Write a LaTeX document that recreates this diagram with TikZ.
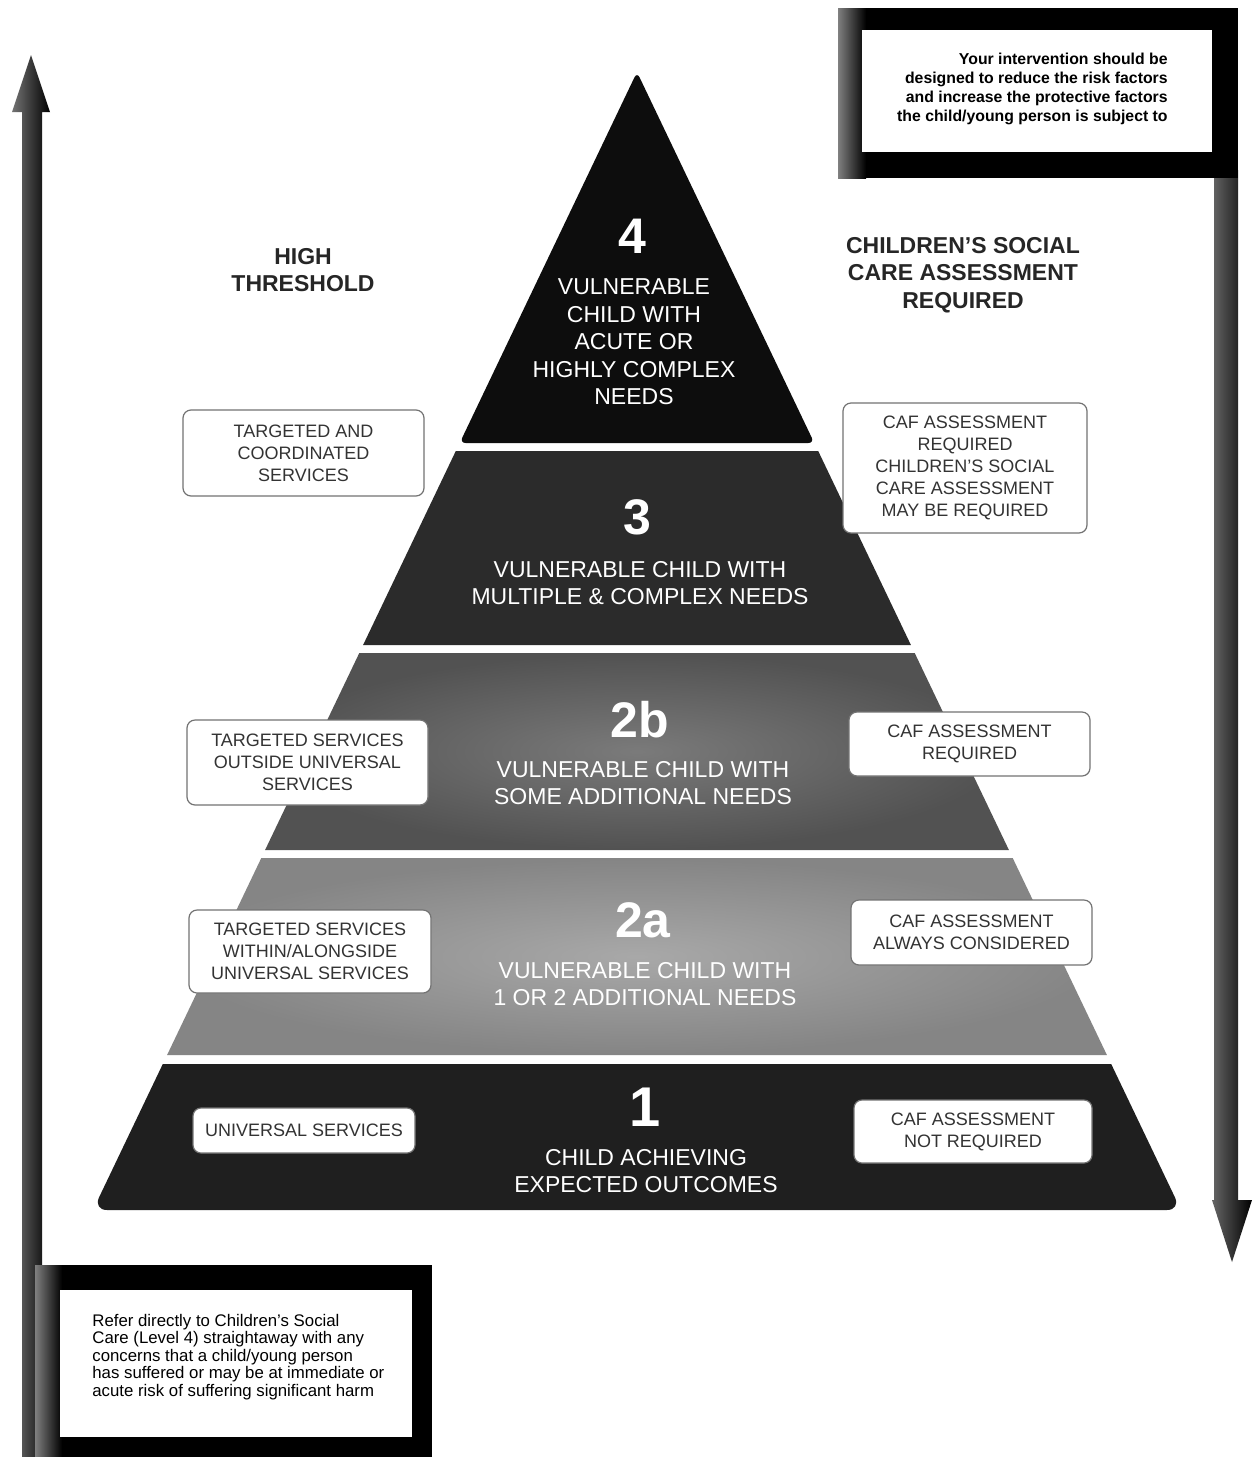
\documentclass[tikz,border=0pt]{standalone}
\usepackage{fontspec}
\setmainfont{Liberation Sans}
\begin{document}
\begin{tikzpicture}[x=0.5pt,y=-0.5pt,
  levelnum/.style={text=white, font=\bfseries\fontsize{25}{25}\selectfont, inner sep=0pt},
  leveltxt/.style={text=white, align=center, font=\fontsize{11.5}{13.75}\selectfont, inner sep=0pt},
  header/.style={text=black!85, align=center, font=\bfseries\fontsize{11.5}{13.75}\selectfont, inner sep=0pt},
  svcbox/.style={draw=black!55, line width=0.6pt, fill=white, rounded corners=4pt, align=center,
    text=black!80, font=\fontsize{9}{11}\selectfont, inner sep=0pt},
  frametxt/.style={text=black, font=\fontsize{8.4}{8.7}\selectfont, inner sep=0pt}
]
\useasboundingbox (0,0) rectangle (1256,1457);
\fill[white] (0,0) rectangle (1256,1457);

% ---------- pyramid levels ----------
\fill[black!95, rounded corners=3pt] (637,72) -- (814.3,443) -- (459.7,443) -- cycle;
\fill[black!83] (455.8,451) -- (818.2,451) -- (910.9,645) -- (363.1,645) -- cycle;
\shade[inner color=black!52, outer color=black!68] (359.3,653) -- (914.7,653) -- (1008.9,850) -- (265.1,850) -- cycle;
\shade[inner color=black!34, outer color=black!48] (261.3,858) -- (1012.7,858) -- (1106.9,1055) -- (167.1,1055) -- cycle;
\fill[black!88] (162.8,1064) -- (1111.2,1064) [rounded corners=7pt] -- (1181,1210) -- (93,1210) [sharp corners] -- cycle;

% ---------- level texts ----------
\node[levelnum] (n4) at (632,236) {4};
\node[leveltxt] (t4) at (634,342) {VULNERABLE\\CHILD WITH\\ACUTE OR\\HIGHLY COMPLEX\\NEEDS};
\node[levelnum] (n3) at (637,517) {3};
\node[leveltxt] (t3) at (640,583) {VULNERABLE CHILD WITH\\MULTIPLE \& COMPLEX NEEDS};
\node[levelnum] (n2b) at (640,720) {2b};
\node[leveltxt] (t2b) at (643,783) {VULNERABLE CHILD WITH\\SOME ADDITIONAL NEEDS};
\node[levelnum] (n2a) at (643,920) {2a};
\node[leveltxt] (t2a) at (645,984) {VULNERABLE CHILD WITH\\1 OR 2 ADDITIONAL NEEDS};
\node[levelnum, font=\bfseries\fontsize{28}{28}\selectfont] (n1) at (645,1107) {1};
\node[leveltxt] (t1) at (646,1171) {CHILD ACHIEVING\\EXPECTED OUTCOMES};

% ---------- headers ----------
\node[header] (hL) at (303,270) {HIGH\\THRESHOLD};
\node[header] (hR) at (963,275) {CHILDREN'S SOCIAL\\CARE ASSESSMENT\\REQUIRED};

% ---------- service boxes ----------
\node[svcbox, minimum width=120.5pt, minimum height=43pt] (bL4) at (303.5,453) {TARGETED AND\\COORDINATED\\SERVICES};
\node[svcbox, minimum width=122pt, minimum height=65pt] (bR4) at (965,468) {CAF ASSESSMENT\\REQUIRED\\CHILDREN'S SOCIAL\\CARE ASSESSMENT\\MAY BE REQUIRED};
\node[svcbox, minimum width=120.5pt, minimum height=42.5pt] (bL2b) at (307.5,762.5) {TARGETED SERVICES\\OUTSIDE UNIVERSAL\\SERVICES};
\node[svcbox, minimum width=120.5pt, minimum height=32pt] (bR2b) at (969.5,744) {CAF ASSESSMENT\\REQUIRED};
\node[svcbox, minimum width=121pt, minimum height=41.5pt] (bL2a) at (310,951.5) {TARGETED SERVICES\\WITHIN/ALONGSIDE\\UNIVERSAL SERVICES};
\node[svcbox, minimum width=120.5pt, minimum height=32.5pt] (bR2a) at (971.5,932.5) {CAF ASSESSMENT\\ALWAYS CONSIDERED};
\node[svcbox, minimum width=111pt, minimum height=22.5pt] (bL1) at (304,1130.5) {UNIVERSAL SERVICES};
\node[svcbox, minimum width=119pt, minimum height=31.5pt] (bR1) at (973,1131.5) {CAF ASSESSMENT\\NOT REQUIRED};

% ---------- left up arrow ----------
\shade[left color=black!55, right color=black]
  (22,1457) -- (22,112) -- (12,112) -- (31,55) -- (50,112) -- (42,112) -- (42,1457) -- cycle;

% ---------- right down arrow ----------
\shade[left color=black!60, right color=black]
  (1214,170) -- (1238,170) -- (1238,1200) -- (1252,1200) -- (1232,1262) -- (1212,1200) -- (1214,1200) -- cycle;

% ---------- top right frame ----------
\fill[black] (838,8) rectangle (1238,178);
\shade[left color=black!50, right color=black] (838,8) rectangle (866,178);
\fill[white] (862,30) rectangle (1212,152);
\node[frametxt, font=\bfseries\fontsize{7.9}{9.5}\selectfont, align=right, anchor=east] (tr) at (1168,88.5)
  {Your intervention should be\\designed to reduce the risk factors\\and increase the protective factors\\the child/young person is subject to};

% ---------- bottom left frame ----------
\fill[black] (35,1265) rectangle (432,1457);
\shade[left color=black!50, right color=black] (35,1265) rectangle (62,1457);
\fill[white] (60,1290) rectangle (412,1437);
\node[frametxt, align=left, anchor=west] (bl) at (92,1357)
  {Refer directly to Children's Social\\Care (Level 4) straightaway with any\\concerns that a child/young person\\has suffered or may be at immediate or\\acute risk of suffering significant harm};
\end{tikzpicture}
\end{document}
